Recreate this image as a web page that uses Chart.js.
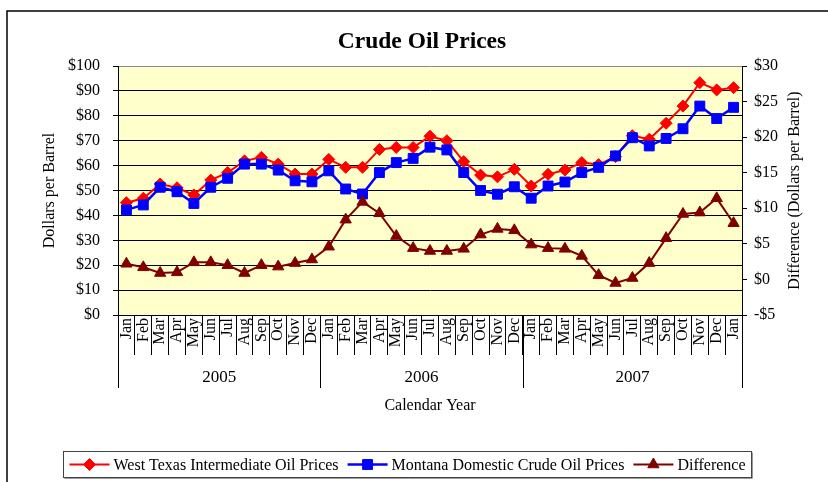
<!DOCTYPE html>
<html>
<head>
<meta charset="utf-8">
<script src="https://cdn.jsdelivr.net/npm/chart.js@4.4.1/dist/chart.umd.min.js"></script>
<style>
  html, body { margin: 0; padding: 0; background: #fff; }
  canvas { display: block; }
</style>
</head>
<body>
<canvas id="chart" width="828" height="482"></canvas>
<script>
// Crude oil prices, Jan 2005 - Jan 2007 (two price lines + difference on a second axis)
const SERIF = "'Liberation Serif', 'Times New Roman', serif";

const months = ["Jan","Feb","Mar","Apr","May","Jun","Jul","Aug","Sep","Oct","Nov","Dec",
                "Jan","Feb","Mar","Apr","May","Jun","Jul","Aug","Sep","Oct","Nov","Dec",
                "Jan","Feb","Mar","Apr","May","Jun","Jul","Aug","Sep","Oct","Nov","Dec","Jan"];
const years = ["2005", "2006", "2007"];
const monthsPerYear = [12, 12, 13];

const wtiPrices = [45.1, 46.9, 52.6, 51.1, 48.2, 54.2, 57.2, 61.9, 63.3, 60.6, 56.6, 56.6,
                   62.5, 59.3, 59.3, 66.5, 67.3, 67.3, 71.8, 70.0, 61.6, 56.2, 55.5, 58.5,
                   51.8, 56.5, 58.2, 61.2, 60.4, 63.6, 72.0, 70.6, 77.0, 83.9, 93.3, 90.4, 91.3];
const montanaPrices = [42.2, 44.2, 51.3, 49.5, 44.8, 51.3, 54.9, 60.6, 60.6, 58.2, 53.9, 53.5,
                       57.9, 50.6, 48.6, 57.2, 61.2, 62.9, 67.4, 66.3, 57.2, 50.0, 48.5, 51.5,
                       46.9, 51.8, 53.4, 57.2, 59.3, 63.9, 71.2, 67.9, 70.9, 74.8, 83.9, 78.9, 83.4];
const priceDiff = [2.2, 1.7, 0.9, 1.0, 2.4, 2.4, 2.0, 0.9, 2.0, 1.8, 2.3, 2.8,
                   4.6, 8.4, 10.9, 9.3, 6.1, 4.4, 4.0, 4.0, 4.3, 6.3, 7.1, 6.9,
                   4.9, 4.4, 4.3, 3.3, 0.6, -0.5, 0.2, 2.3, 5.8, 9.2, 9.4, 11.4, 7.9];

const priceAxis = { min: 0, max: 100, step: 10 };
const diffAxis = { min: -5, max: 30, step: 5 };

function dollars(v){ return (v < 0 ? "-$" : "$") + Math.abs(v); }

const chartTitle = "Crude Oil Prices";
const seriesNames = ["West Texas Intermediate Oil Prices", "Montana Domestic Crude Oil Prices", "Difference"];

// white page, yellow plot area
const backdrop = {
  id: "backdrop",
  beforeDraw(chart){
    const {ctx, chartArea: a} = chart;
    ctx.save();
    ctx.fillStyle = "#fff";
    ctx.fillRect(0, 0, chart.width, chart.height);
    ctx.fillStyle = "#FFFFCC";
    ctx.fillRect(a.left, a.top, a.right - a.left, a.bottom - a.top);
    ctx.restore();
  }
};

// outer frame, title, year rows, right axis title, boxed legend
const extras = {
  id: "extras",
  afterDraw(chart){
    const {ctx, chartArea: a, scales} = chart;
    const x = scales.x;
    const half = (x.getPixelForValue(1) - x.getPixelForValue(0)) / 2;
    const n = months.length;
    const edge = i => i < n ? x.getPixelForValue(i) - half : x.getPixelForValue(n - 1) + half;

    ctx.save();
    // frame (runs off the right and bottom of the picture)
    ctx.strokeStyle = "#000";
    ctx.lineWidth = 1.5;
    ctx.strokeRect(7, 11, 900, 600);

    // title, centred on the frame rather than the canvas
    ctx.fillStyle = "#000";
    ctx.textAlign = "center";
    ctx.textBaseline = "middle";
    ctx.font = "bold 23.5px " + SERIF;
    ctx.fillText(chartTitle, 422, 42);

    // year dividers + labels
    ctx.lineWidth = 1;
    let start = 0;
    const bounds = [0];
    monthsPerYear.forEach(c => { start += c; bounds.push(start); });
    bounds.forEach(b => {
      const px = Math.round(edge(b)) + 0.5;
      ctx.beginPath();
      ctx.moveTo(px, a.bottom);
      ctx.lineTo(px, 388);
      ctx.stroke();
    });
    ctx.font = "17px " + SERIF;
    years.forEach((yr, k) => {
      const cx = (edge(bounds[k]) + edge(bounds[k + 1])) / 2;
      ctx.fillText(yr, cx, 378);
    });

    // right axis title, reading bottom to top
    ctx.save();
    ctx.translate(795, (a.top + a.bottom) / 2);
    ctx.rotate(-Math.PI / 2);
    ctx.font = "16px " + SERIF;
    ctx.fillText("Difference (Dollars per Barrel)", 0, 0);
    ctx.restore();

    // legend
    ctx.font = "16px " + SERIF;
    const lineLen = 40, gapText = 4, gapItem = 9, padX = 6;
    const sets = chart.data.datasets;
    let total = padX * 2;
    sets.forEach((ds, i) => {
      total += lineLen + gapText + ctx.measureText(ds.label).width + (i < sets.length - 1 ? gapItem : 0);
    });
    const boxL = Math.round(407.5 - total / 2) + 0.5;
    const boxT = 451.5, boxH = 26;
    ctx.fillStyle = "#fff";
    ctx.fillRect(boxL, boxT, total, boxH);
    ctx.strokeStyle = "#444";
    ctx.strokeRect(boxL, boxT, total, boxH);
    ctx.strokeStyle = "#999";
    ctx.beginPath();
    ctx.moveTo(boxL + 1, boxT + boxH + 1);
    ctx.lineTo(boxL + total + 1, boxT + boxH + 1);
    ctx.lineTo(boxL + total + 1, boxT + 1);
    ctx.stroke();

    const cy = boxT + boxH / 2;
    let cx = boxL + padX;
    sets.forEach(ds => {
      ctx.strokeStyle = ds.borderColor;
      ctx.fillStyle = ds.backgroundColor;
      ctx.lineWidth = ds.borderWidth;
      ctx.beginPath();
      ctx.moveTo(cx, cy);
      ctx.lineTo(cx + lineLen, cy);
      ctx.stroke();
      ctx.lineWidth = 1;
      Chart.helpers.drawPoint(ctx, {pointStyle: ds.pointStyle, radius: ds.pointRadius, rotation: 0, borderWidth: 1}, cx + lineLen / 2, cy);
      cx += lineLen + gapText;
      ctx.fillStyle = "#000";
      ctx.textAlign = "left";
      ctx.fillText(ds.label, cx, cy + 1);
      cx += ctx.measureText(ds.label).width + gapItem;
    });
    ctx.restore();
  }
};

new Chart(document.getElementById("chart"), {
  type: "line",
  data: {
    labels: months,
    datasets: [
      {
        label: seriesNames[0], data: wtiPrices, yAxisID: "y", order: 3,
        borderColor: "#FF0000", backgroundColor: "#FF0000", borderWidth: 2,
        pointStyle: "rectRot", pointRadius: 6, pointBorderWidth: 1
      },
      {
        label: seriesNames[1], data: montanaPrices, yAxisID: "y", order: 2,
        borderColor: "#0000FF", backgroundColor: "#0000FF", borderWidth: 2.5,
        pointStyle: "rect", pointRadius: 7, pointBorderWidth: 1
      },
      {
        label: seriesNames[2], data: priceDiff, yAxisID: "y2", order: 1,
        borderColor: "#800000", backgroundColor: "#800000", borderWidth: 2,
        pointStyle: "triangle", pointRadius: 6.5, pointBorderWidth: 1
      }
    ]
  },
  options: {
    responsive: false,
    animation: false,
    events: [],
    devicePixelRatio: 1,
    layout: { padding: { left: 0, right: 0, top: 66, bottom: 67 } },
    plugins: {
      legend: { display: false },
      tooltip: { enabled: false },
      title: { display: false }
    },
    scales: {
      x: {
        type: "category",
        offset: true,
        grid: { offset: true, drawOnChartArea: false, tickLength: 40, color: "#000" },
        border: { color: "#000" },
        ticks: {
          autoSkip: false, minRotation: 90, maxRotation: 90, padding: -37,
          color: "#000", font: { family: SERIF, size: 16 }
        },
        title: {
          display: true, text: "Calendar Year", color: "#000",
          font: { family: SERIF, size: 16 }, padding: { top: 0, bottom: 0 }
        },
        afterFit(s){ s.height = 100; }
      },
      y: {
        position: "left",
        min: priceAxis.min, max: priceAxis.max,
        ticks: {
          stepSize: priceAxis.step, callback: v => dollars(v), padding: 13,
          color: "#000", font: { family: SERIF, size: 16 }
        },
        grid: {
          color: c => c.tick && c.tick.value === priceAxis.max ? "#8a8a8a" : "#000",
          tickColor: "#000", tickLength: 5
        },
        border: { color: "#000" },
        title: {
          display: true, text: "Dollars per Barrel", color: "#000",
          font: { family: SERIF, size: 16 }, padding: { top: 40.4, bottom: 0 }
        },
        afterFit(s){ s.width = 118; }
      },
      y2: {
        position: "right",
        min: diffAxis.min, max: diffAxis.max,
        ticks: {
          stepSize: diffAxis.step, callback: v => dollars(v), padding: 7,
          color: "#000", font: { family: SERIF, size: 16 }
        },
        grid: { drawOnChartArea: false, color: "#000", tickLength: 5 },
        border: { color: "#000" },
        afterFit(s){ s.width = 86; }
      }
    }
  },
  plugins: [backdrop, extras]
});
</script>
</body>
</html>
